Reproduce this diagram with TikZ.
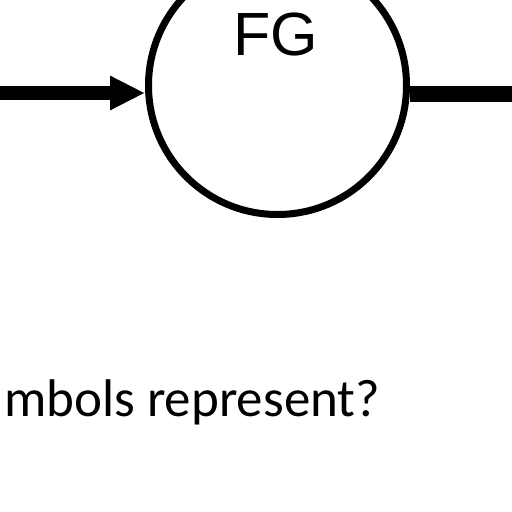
\documentclass[tikz,border=0pt]{standalone}
\usepackage{fontspec}
\setmainfont{Carlito}
\newfontfamily\arialfont{Liberation Sans}
\usetikzlibrary{arrows.meta}

\begin{document}
\begin{tikzpicture}[x=1bp,y=-1bp,stage/.style={circle,draw,line width=7bp,minimum size=258bp,inner sep=0pt},flow/.style={line width=14bp},flowend/.style={line width=16bp},fgtext/.style={font=\arialfont\fontsize{61bp}{61bp}\selectfont,inner sep=0pt},question/.style={font=\fontsize{53bp}{60bp}\selectfont,inner sep=0pt,anchor=base west}]
	\useasboundingbox (0,0) rectangle (512,512);
	\clip (0,0) rectangle (512,512);
	\node[stage] (fg) at (277.5,85.5) {};
	\node[fgtext] (fglabel) at (276,35) {FG};
	\coordinate (in) at (-5,93);
	\coordinate (out) at (520,94);
	\draw[flow,-{Triangle[length=35bp,width=32bp]}] (in) -- (fg.west |- in);
	\draw[flowend] (fg.east |- out) -- (out);
	\node[question] (ask) at (4,416) {mbols represent?};
\end{tikzpicture}
\end{document}
